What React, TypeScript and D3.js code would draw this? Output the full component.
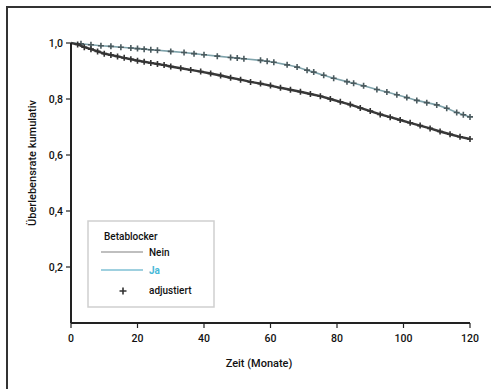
import React from "react";
import * as d3 from "d3";

const xTicks = [0, 20, 40, 60, 80, 100, 120];
const yTicks = [0.2, 0.4, 0.6, 0.8, 1.0];
const yTickLabels = ["0,2", "0,4", "0,6", "0,8", "1,0"];

// Betablocker: Nein (dark)
const neinMonths = [0, 2, 4, 6, 8, 10, 12, 14, 16, 18, 20, 22, 24, 26, 28, 30, 33, 36, 39, 42, 45, 48, 51, 54, 57, 60, 63, 66, 69, 72, 75, 78, 81, 84, 87, 90, 93, 96, 99, 102, 105, 108, 111, 114, 117, 120];
const neinSurv = [1.0, 0.995, 0.985, 0.978, 0.97, 0.962, 0.957, 0.952, 0.947, 0.942, 0.937, 0.933, 0.929, 0.925, 0.921, 0.916, 0.91, 0.904, 0.898, 0.891, 0.884, 0.876, 0.869, 0.861, 0.855, 0.848, 0.84, 0.833, 0.826, 0.818, 0.81, 0.8, 0.79, 0.78, 0.768, 0.757, 0.745, 0.735, 0.725, 0.715, 0.705, 0.695, 0.684, 0.674, 0.665, 0.657];

// Betablocker: Ja (light)
const jaMonths = [0, 3, 6, 9, 12, 15, 18, 20, 22, 24, 26, 30, 34, 37, 40, 44, 48, 50, 52, 57, 59, 61, 65, 68, 71, 73, 76, 79, 83, 85, 88, 92, 95, 98, 101, 104, 107, 110, 113, 116, 118, 120];
const jaSurv = [1.0, 0.997, 0.994, 0.99, 0.988, 0.985, 0.982, 0.98, 0.978, 0.976, 0.974, 0.97, 0.966, 0.962, 0.958, 0.953, 0.948, 0.946, 0.944, 0.938, 0.935, 0.931, 0.922, 0.914, 0.903, 0.896, 0.885, 0.874, 0.862, 0.856, 0.847, 0.834, 0.825, 0.815, 0.805, 0.795, 0.787, 0.779, 0.767, 0.752, 0.744, 0.736];

const legendItems = ["Nein", "Ja", "adjustiert"];

const W = 491;
const H = 389;
const font = "Roboto, 'DejaVu Sans', sans-serif";

export default function App() {
  const x = d3.scaleLinear().domain([0, 120]).range([71, 470]);
  const y = d3.scaleLinear().domain([0, 1]).range([323, 43]);

  const line = d3
    .line<[number, number]>()
    .x((d) => x(d[0]))
    .y((d) => y(d[1]));

  const nein: [number, number][] = neinMonths.map((m, i) => [m, neinSurv[i]]);
  const ja: [number, number][] = jaMonths.map((m, i) => [m, jaSurv[i]]);

  const plus = (cx: number, cy: number, key: string, color: string, s = 3) => (
    <path
      key={key}
      d={`M${cx - s},${cy}H${cx + s}M${cx},${cy - s}V${cy + s}`}
      stroke={color}
      strokeWidth={1.6}
    />
  );

  return (
    <svg
      width={W}
      height={H}
      style={{ position: "absolute", left: 0, top: 0, background: "#fff" }}
      fontFamily={font}
    >
      <rect x={7} y={7} width={W + 10} height={H + 10} fill="none" stroke="#333" strokeWidth={2} />

      {/* curves */}
      <path d={line(ja) || ""} fill="none" stroke="#7fa3ab" strokeWidth={1.6} />
      {ja.slice(1).map((d, i) => plus(x(d[0]), y(d[1]), "j" + i, "#4a5a5e", 3))}
      <path d={line(nein) || ""} fill="none" stroke="#3a3a3a" strokeWidth={2.4} />
      {nein.slice(1).map((d, i) => plus(x(d[0]), y(d[1]), "n" + i, "#333", 3))}

      {/* axes */}
      <line x1={71} x2={71} y1={y(1)} y2={y(0)} stroke="#222" strokeWidth={2} />
      <line x1={71} x2={x(120)} y1={y(0)} y2={y(0)} stroke="#222" strokeWidth={2} />
      {yTicks.map((t, i) => (
        <g key={"yt" + i}>
          <line x1={66} x2={71} y1={y(t)} y2={y(t)} stroke="#222" strokeWidth={1.2} />
          <text x={63} y={y(t)} dy="0.35em" textAnchor="end" fontSize={10.5} fontWeight={500} fill="#111">
            {yTickLabels[i]}
          </text>
        </g>
      ))}
      {xTicks.map((t, i) => (
        <g key={"xt" + i}>
          <line x1={x(t)} x2={x(t)} y1={y(0)} y2={y(0) + 5} stroke="#222" strokeWidth={1.2} />
          <text x={x(t)} y={342} textAnchor="middle" fontSize={10.5} fontWeight={500} fill="#111">
            {t}
          </text>
        </g>
      ))}
      <text x={259} y={367} textAnchor="middle" fontSize={11} fontWeight={500} fill="#111">
        Zeit (Monate)
      </text>
      <text
        transform={`translate(36,163) rotate(-90)`}
        textAnchor="middle"
        fontSize={11}
        fontWeight={500}
        fill="#111"
      >
        Überlebensrate kumulativ
      </text>

      {/* legend */}
      <rect x={88} y={221} width={126} height={86} fill="#fff" stroke="#cfcfcf" strokeWidth={1.5} />
      <text x={104} y={240} fontSize={10} fontWeight={500} fill="#111">Betablocker</text>
      <line x1={101} x2={143} y1={252} y2={252} stroke="#aaa" strokeWidth={1.5} />
      <text x={149} y={256} fontSize={10} fontWeight={500} fill="#111">{legendItems[0]}</text>
      <line x1={101} x2={143} y1={270} y2={270} stroke="#9fd0df" strokeWidth={1.8} />
      <text x={149} y={274} fontSize={10} fontWeight={700} fill="#48b9d8">{legendItems[1]}</text>
      {plus(123, 291, "lg", "#333", 3.5)}
      <text x={149} y={294} fontSize={10} fontWeight={500} fill="#111">{legendItems[2]}</text>
    </svg>
  );
}
